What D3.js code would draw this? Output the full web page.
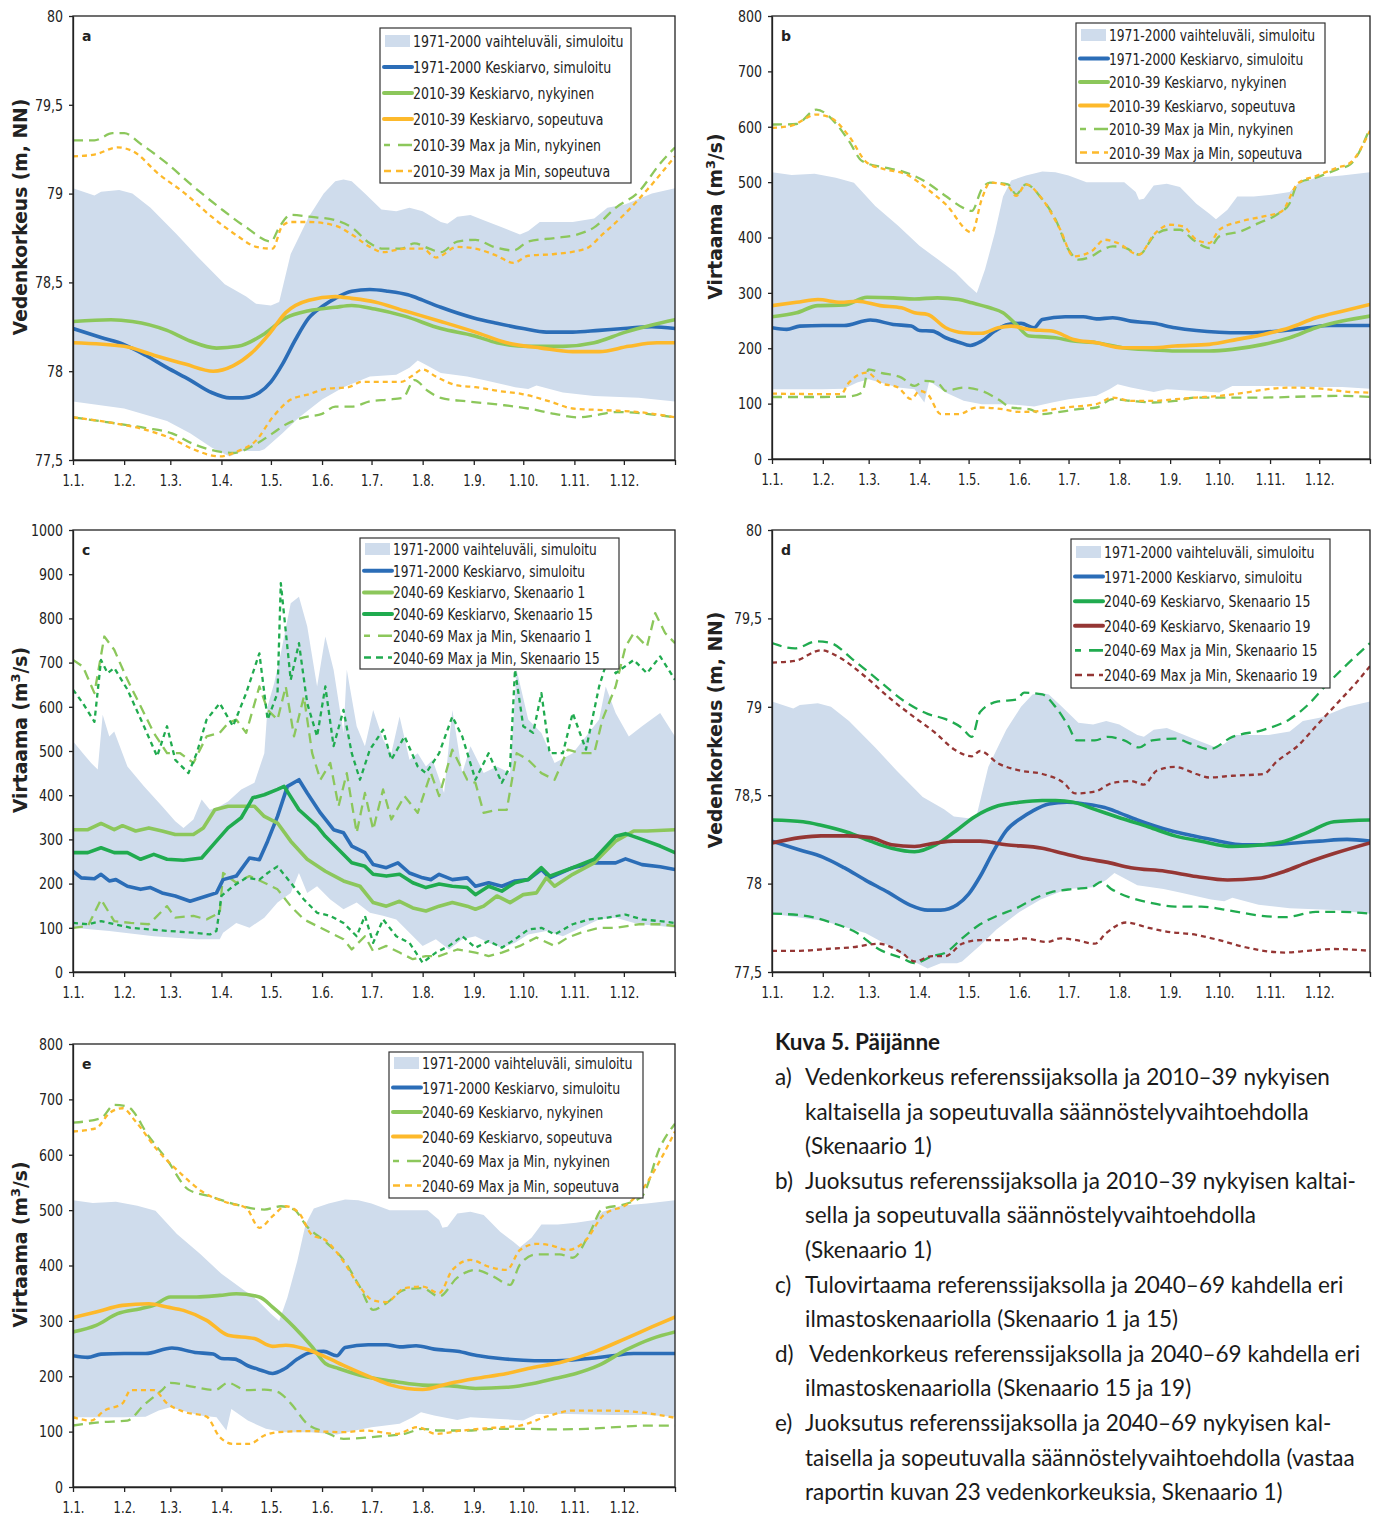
<!DOCTYPE html>
<html><head><meta charset="utf-8">
<script src="https://cdn.jsdelivr.net/npm/d3@7"></script>
<style>body{margin:0;background:#fff}</style>
</head><body>
<svg id="chart" width="1381" height="1517"></svg>
<script>
// ---------------- DATA ----------------
const monthDays = [0,31,59,90,120,151,181,212,243,273,304,334];
const monthLabels = ["1.1.","1.2.","1.3.","1.4.","1.5.","1.6.","1.7.","1.8.","1.9.","1.10.","1.11.","1.12."];
const levelTicks = [77.5,78,78.5,79,79.5,80];
const levelTickLabels = ["77,5","78","78,5","79","79,5","80"];
const flow800Ticks = [0,100,200,300,400,500,600,700,800];
const flow1000Ticks = [0,100,200,300,400,500,600,700,800,900,1000];

// Water level reference (a, d)
const levelRangeHi = [[0,79.03],[13,78.99],[17,79.01],[28,79.02],[36,79.0],[47,78.92],[63,78.77],[76,78.64],[92,78.49],[105,78.42],[111,78.38],[120,78.37],[125,78.39],[132,78.66],[143,78.87],[152,79.0],[159,79.07],[164,79.08],[169,79.07],[177,79.0],[187,78.91],[196,78.9],[204,78.92],[212,78.9],[223,78.84],[227,78.83],[233,78.87],[241,78.88],[249,78.85],[260,78.81],[271,78.77],[276,78.79],[283,78.84],[292,78.84],[303,78.84],[316,78.86],[324,78.92],[335,78.94],[351,79.0],[365,79.03]];
const levelRangeLo = [[0,77.83],[31,77.79],[57,77.72],[71,77.65],[84,77.57],[95,77.52],[103,77.55],[113,77.55],[116,77.56],[127,77.65],[137,77.74],[151,77.84],[164,77.91],[180,77.97],[196,77.98],[204,78.02],[209,78.06],[215,78.03],[223,77.99],[239,77.97],[249,77.95],[268,77.91],[276,77.9],[281,77.92],[297,77.88],[316,77.86],[343,77.85],[365,77.83]];
const levelRefMean = [[0,78.24],[17,78.19],[31,78.15],[44,78.09],[57,78.02],[71,77.95],[84,77.88],[95,77.85],[103,77.85],[113,77.88],[120,77.94],[127,78.04],[135,78.18],[143,78.3],[152,78.37],[159,78.41],[169,78.45],[180,78.46],[191,78.45],[203,78.43],[212,78.4],[223,78.36],[243,78.3],[257,78.27],[273,78.24],[287,78.22],[303,78.22],[319,78.23],[334,78.24],[351,78.25],[365,78.24]];

// Panel a
const aMeanNyk = [[0,78.28],[23,78.29],[36,78.28],[57,78.23],[71,78.17],[87,78.13],[100,78.14],[116,78.21],[129,78.3],[143,78.34],[159,78.36],[169,78.37],[183,78.35],[201,78.31],[223,78.24],[243,78.2],[257,78.16],[276,78.14],[297,78.14],[316,78.16],[335,78.22],[351,78.26],[365,78.29]];
const aMeanSop = [[0,78.16],[31,78.14],[49,78.09],[68,78.04],[85,78.0],[97,78.03],[108,78.1],[119,78.21],[129,78.33],[143,78.4],[159,78.42],[169,78.41],[183,78.39],[201,78.34],[223,78.28],[244,78.22],[263,78.16],[284,78.13],[303,78.11],[319,78.11],[337,78.14],[354,78.16],[365,78.16]];
const aMaxNyk = [[0,79.3],[13,79.3],[24,79.34],[31,79.34],[41,79.28],[57,79.17],[73,79.04],[89,78.92],[105,78.81],[120,78.73],[125,78.81],[132,78.88],[143,78.87],[159,78.85],[169,78.81],[180,78.72],[188,78.69],[199,78.69],[207,78.72],[216,78.69],[223,78.67],[233,78.73],[244,78.74],[255,78.7],[267,78.68],[276,78.73],[292,78.75],[306,78.77],[316,78.81],[329,78.92],[343,79.01],[356,79.17],[365,79.26]];
const aMaxSop = [[0,79.21],[13,79.22],[27,79.26],[36,79.24],[52,79.11],[68,79.0],[84,78.87],[100,78.76],[111,78.7],[121,78.69],[127,78.82],[132,78.84],[143,78.84],[159,78.82],[169,78.77],[180,78.7],[188,78.67],[201,78.69],[212,78.69],[220,78.64],[233,78.7],[244,78.69],[257,78.65],[267,78.61],[276,78.65],[292,78.66],[311,78.69],[321,78.77],[335,78.89],[348,79.02],[365,79.21]];
const aMinNyk = [[0,77.74],[23,77.71],[44,77.68],[60,77.65],[73,77.59],[87,77.55],[97,77.54],[111,77.59],[121,77.65],[129,77.7],[140,77.74],[151,77.76],[159,77.8],[169,77.8],[180,77.83],[191,77.84],[200,77.85],[207,77.95],[215,77.89],[223,77.85],[239,77.83],[260,77.81],[276,77.79],[292,77.76],[306,77.74],[316,77.75],[329,77.77],[348,77.76],[365,77.74]];
const aMinSop = [[0,77.74],[23,77.71],[44,77.67],[60,77.62],[73,77.56],[89,77.52],[100,77.55],[111,77.61],[121,77.74],[132,77.84],[143,77.87],[153,77.9],[167,77.91],[175,77.94],[188,77.94],[199,77.94],[205,77.97],[212,78.01],[220,77.97],[233,77.92],[244,77.91],[257,77.89],[273,77.87],[289,77.83],[303,77.79],[324,77.78],[343,77.77],[365,77.74]];

// Flow reference (b, e)
const flowRangeHi = [[0,518],[12,513],[26,515],[39,508],[50,499],[63,457],[77,421],[90,385],[101,361],[112,337],[120,313],[125,300],[130,342],[136,408],[141,474],[146,503],[155,512],[165,519],[173,518],[181,512],[192,500],[206,500],[215,500],[222,482],[224,468],[227,470],[233,494],[241,497],[249,491],[259,461],[267,443],[271,433],[278,450],[284,474],[294,474],[305,477],[316,482],[321,497],[332,508],[348,512],[365,518]];
const flowRangeLo = [[0,126],[31,126],[44,127],[52,138],[59,144],[66,138],[77,129],[87,126],[93,102],[96,141],[106,120],[117,105],[128,99],[144,99],[160,95],[171,102],[181,108],[198,114],[206,126],[211,135],[219,129],[233,121],[241,126],[259,123],[273,120],[281,132],[300,132],[327,130],[348,130],[365,127]];
const flowRefMean = [[0,237],[9,234],[17,240],[31,241],[44,241],[60,251],[74,243],[85,240],[90,232],[98,231],[106,219],[114,211],[121,205],[128,213],[136,231],[144,243],[152,245],[160,237],[165,252],[179,257],[190,257],[198,253],[208,255],[219,249],[233,245],[246,237],[259,232],[273,229],[286,228],[300,229],[313,232],[327,237],[340,241],[365,241]];

// Panel b
const bMeanNyk = [[0,257],[15,264],[28,277],[44,278],[58,292],[74,291],[87,289],[101,291],[114,288],[122,282],[133,273],[141,264],[149,243],[157,222],[163,221],[173,219],[184,213],[198,210],[214,201],[233,197],[246,195],[267,195],[281,198],[300,207],[316,219],[332,237],[348,249],[365,258]];
const bMeanSop = [[0,277],[15,283],[28,288],[42,283],[52,285],[66,277],[79,273],[87,264],[95,261],[106,237],[117,228],[128,227],[138,237],[146,240],[157,234],[171,231],[184,216],[198,210],[214,201],[233,201],[246,204],[267,207],[284,216],[300,225],[316,237],[332,255],[348,267],[365,279]];
const bMaxNyk = [[0,604],[15,605],[27,631],[39,606],[47,574],[55,538],[69,526],[79,520],[93,502],[106,475],[117,453],[122,448],[128,487],[133,499],[144,496],[149,478],[155,496],[165,469],[173,433],[181,378],[187,360],[195,366],[200,375],[208,384],[216,381],[224,369],[233,402],[241,414],[249,414],[257,396],[267,381],[273,402],[286,411],[297,426],[308,441],[316,462],[321,498],[332,508],[345,523],[353,532],[365,598]];
const bMaxSop = [[0,598],[12,602],[27,622],[36,616],[47,583],[58,535],[69,523],[82,514],[95,487],[106,460],[122,409],[128,469],[133,499],[144,493],[149,475],[155,496],[165,469],[176,414],[184,366],[195,375],[203,396],[211,390],[224,369],[233,405],[243,423],[251,420],[259,396],[267,390],[273,414],[286,429],[300,438],[311,447],[321,498],[332,511],[345,526],[353,535],[365,593]];
const bMinNyk = [[0,112],[31,112],[47,113],[55,120],[59,162],[66,156],[79,147],[87,132],[93,141],[101,138],[106,123],[117,129],[128,123],[138,108],[146,93],[157,90],[165,81],[173,84],[187,90],[198,93],[208,108],[219,105],[233,102],[246,105],[259,111],[300,111],[327,113],[348,114],[365,112]];
const bMinSop = [[0,118],[42,117],[47,138],[58,156],[66,138],[77,129],[85,108],[90,123],[95,117],[103,81],[114,81],[125,93],[138,91],[152,85],[165,87],[179,93],[198,99],[208,111],[219,105],[233,105],[246,108],[259,111],[273,114],[289,120],[305,127],[319,129],[335,127],[353,121],[365,120]];

// Panel c (inflow)
const cRangeHi = [[0,522],[6,495],[11,473],[15,458],[18,582],[22,533],[25,544],[33,465],[43,420],[54,375],[62,341],[67,326],[73,345],[78,390],[83,367],[89,375],[94,386],[102,413],[110,428],[116,495],[118,601],[122,654],[126,721],[132,834],[137,849],[142,782],[148,646],[153,759],[158,684],[164,541],[166,684],[172,556],[177,511],[182,593],[188,526],[193,495],[198,578],[204,480],[209,495],[214,465],[218,480],[225,405],[230,593],[236,450],[241,511],[249,450],[257,465],[265,450],[269,684],[276,571],[284,541],[292,473],[303,495],[311,533],[319,571],[323,646],[329,586],[337,533],[345,556],[356,586],[365,533]];
const cRangeLo = [[0,100],[22,93],[49,81],[75,74],[89,74],[91,89],[99,111],[107,100],[116,123],[124,157],[132,179],[137,224],[142,179],[148,194],[156,164],[164,142],[172,157],[180,134],[188,127],[196,119],[204,89],[212,59],[220,74],[228,51],[236,74],[244,81],[252,66],[260,55],[268,66],[276,85],[287,93],[297,81],[308,100],[319,119],[329,123],[343,108],[356,104],[365,100]];
const cRefMean = [[0,228],[5,213],[13,211],[17,221],[22,206],[26,209],[33,194],[41,187],[47,191],[54,179],[62,172],[71,160],[81,172],[87,179],[91,209],[99,217],[107,258],[113,254],[118,296],[124,352],[130,420],[137,435],[142,405],[150,360],[158,322],[164,315],[169,285],[177,270],[182,243],[190,236],[197,247],[204,224],[212,213],[217,209],[222,221],[230,209],[239,213],[244,194],[252,202],[260,194],[268,206],[276,209],[284,232],[289,213],[303,236],[316,247],[329,247],[335,256],[345,243],[356,238],[365,232]];
const cMeanS1 = [[0,322],[9,322],[17,336],[25,322],[30,331],[38,319],[46,326],[54,319],[62,311],[73,311],[79,326],[86,367],[94,375],[105,375],[110,375],[116,352],[124,337],[132,296],[142,255],[153,228],[164,206],[174,194],[182,157],[190,149],[198,160],[206,145],[214,138],[222,149],[230,157],[239,149],[244,142],[249,149],[257,172],[265,157],[273,175],[281,179],[287,213],[292,194],[303,221],[316,247],[329,296],[340,319],[348,319],[365,322]];
const cMeanS15 = [[0,270],[9,270],[17,281],[25,270],[33,270],[41,255],[49,266],[57,255],[67,253],[78,258],[86,292],[94,326],[102,349],[109,394],[116,401],[124,413],[128,420],[137,367],[148,330],[153,307],[161,277],[169,247],[177,239],[182,221],[190,217],[198,221],[206,202],[214,191],[222,199],[230,194],[239,191],[244,175],[252,194],[260,183],[268,202],[276,209],[284,236],[289,217],[303,236],[316,255],[329,307],[335,313],[345,300],[356,285],[365,270]];
const cMaxS1 = [[0,706],[6,691],[13,631],[19,759],[25,729],[33,661],[41,601],[49,541],[57,495],[65,495],[73,473],[81,533],[89,541],[94,563],[99,571],[105,541],[113,646],[118,593],[124,571],[129,646],[134,533],[140,623],[145,495],[150,435],[156,473],[161,375],[166,450],[172,315],[177,405],[182,322],[188,413],[193,345],[201,398],[209,360],[217,450],[222,398],[230,503],[239,435],[244,428],[249,360],[257,367],[263,367],[269,495],[276,480],[284,450],[292,435],[300,503],[308,495],[316,495],[321,571],[329,646],[335,736],[340,767],[348,736],[353,812],[359,767],[365,744]];
const cMinS1 = [[0,100],[9,104],[17,164],[25,115],[35,111],[46,108],[57,149],[62,123],[73,127],[81,119],[89,134],[91,224],[99,202],[107,217],[116,202],[124,187],[132,149],[140,119],[148,104],[156,89],[164,74],[169,51],[177,81],[182,47],[190,59],[198,44],[206,29],[214,36],[222,36],[233,51],[244,44],[252,36],[260,44],[271,59],[281,78],[292,59],[300,78],[308,89],[319,100],[329,100],[343,108],[356,108],[365,104]];
const cMaxS15 = [[0,639],[6,608],[13,566],[17,706],[21,676],[25,688],[33,639],[43,556],[51,488],[57,556],[62,480],[70,450],[75,495],[81,571],[89,608],[97,556],[105,631],[113,721],[118,571],[124,631],[126,880],[132,661],[137,744],[142,608],[148,533],[153,646],[158,511],[164,593],[169,495],[174,435],[180,503],[188,548],[193,480],[201,533],[209,465],[214,450],[222,495],[230,578],[236,533],[244,435],[252,495],[260,428],[265,465],[268,684],[273,556],[279,541],[284,631],[289,495],[297,495],[303,586],[311,503],[319,646],[324,706],[329,676],[340,706],[348,676],[356,714],[365,661]];
const cMinS15 = [[0,111],[9,108],[17,115],[35,100],[57,93],[73,89],[83,85],[87,93],[90,172],[97,194],[105,213],[113,209],[118,224],[124,239],[132,202],[140,164],[148,134],[156,127],[164,111],[172,81],[177,127],[182,66],[188,119],[196,81],[204,66],[212,21],[220,44],[228,59],[236,81],[244,55],[252,70],[260,55],[268,74],[276,96],[284,100],[292,85],[303,108],[313,119],[324,123],[335,130],[345,119],[356,115],[365,111]];

// Panel d
const dMeanS15 = [[0,78.36],[19,78.35],[30,78.33],[46,78.29],[60,78.24],[73,78.2],[87,78.18],[100,78.22],[111,78.29],[124,78.38],[138,78.44],[151,78.46],[165,78.47],[173,78.47],[184,78.46],[197,78.42],[213,78.37],[230,78.32],[246,78.27],[262,78.24],[281,78.21],[300,78.22],[313,78.24],[327,78.29],[343,78.35],[365,78.36]];
const dMeanS19 = [[0,78.23],[17,78.26],[30,78.27],[46,78.27],[60,78.26],[73,78.22],[87,78.21],[100,78.23],[111,78.24],[127,78.24],[143,78.22],[165,78.2],[178,78.17],[192,78.14],[205,78.12],[219,78.09],[240,78.07],[259,78.04],[278,78.02],[297,78.03],[313,78.07],[327,78.12],[343,78.17],[365,78.23]];
const dMaxS15 = [[0,79.36],[14,79.33],[27,79.37],[36,79.36],[49,79.27],[65,79.15],[81,79.03],[95,78.96],[106,78.93],[116,78.88],[122,78.83],[127,78.97],[138,79.03],[149,79.04],[154,79.08],[165,79.07],[173,79.0],[181,78.89],[186,78.81],[197,78.81],[205,78.83],[215,78.81],[224,78.77],[232,78.81],[246,78.82],[256,78.79],[267,78.76],[281,78.83],[300,78.87],[316,78.93],[327,79.01],[337,79.11],[351,79.24],[365,79.36]];
const dMaxS19 = [[0,79.25],[14,79.26],[30,79.32],[41,79.28],[57,79.17],[73,79.04],[87,78.94],[100,78.85],[111,78.76],[122,78.72],[127,78.75],[138,78.68],[151,78.64],[165,78.62],[178,78.57],[185,78.51],[197,78.52],[208,78.57],[219,78.58],[227,78.56],[235,78.64],[246,78.66],[259,78.62],[267,78.6],[281,78.61],[300,78.62],[308,78.69],[321,78.78],[332,78.89],[345,79.02],[356,79.13],[365,79.23]];
const dMinS15 = [[0,77.83],[19,77.82],[36,77.78],[52,77.72],[65,77.63],[79,77.58],[87,77.55],[98,77.59],[106,77.61],[116,77.69],[127,77.77],[138,77.82],[149,77.86],[159,77.91],[170,77.95],[184,77.97],[195,77.98],[201,78.01],[207,77.97],[219,77.92],[232,77.89],[246,77.87],[262,77.87],[278,77.85],[297,77.82],[313,77.81],[332,77.84],[348,77.84],[365,77.83]];
const dMinS19 = [[0,77.62],[17,77.62],[33,77.63],[49,77.64],[65,77.66],[79,77.61],[87,77.56],[98,77.59],[106,77.59],[116,77.66],[127,77.68],[143,77.68],[154,77.69],[168,77.67],[176,77.69],[186,77.68],[197,77.66],[204,77.72],[216,77.78],[230,77.75],[240,77.73],[259,77.71],[273,77.68],[289,77.64],[300,77.62],[313,77.61],[327,77.62],[343,77.63],[365,77.62]];

// Panel e
const eMeanNyk = [[0,280],[14,292],[27,313],[41,322],[49,328],[59,343],[75,343],[89,346],[99,349],[113,343],[121,325],[134,289],[145,253],[153,223],[161,214],[174,202],[185,195],[196,190],[212,184],[228,183],[244,178],[263,180],[279,187],[292,196],[305,205],[319,220],[335,247],[351,268],[365,280]];
const eMeanSop = [[0,306],[14,316],[30,328],[46,331],[57,325],[67,319],[81,301],[94,274],[110,268],[121,254],[129,256],[140,250],[153,235],[166,217],[180,199],[193,184],[212,176],[228,187],[244,196],[263,205],[276,214],[297,226],[316,244],[335,268],[351,289],[365,307]];
const eMaxNyk = [[0,658],[17,666],[25,690],[33,687],[46,633],[57,591],[70,537],[83,525],[99,510],[116,501],[126,507],[134,501],[142,470],[153,443],[164,410],[174,361],[182,320],[190,332],[201,356],[212,359],[222,344],[233,378],[244,392],[255,380],[265,365],[271,402],[281,420],[295,420],[303,414],[313,457],[321,502],[335,511],[345,525],[356,614],[365,656]];
const eMaxSop = [[0,642],[14,648],[22,675],[30,684],[38,660],[51,609],[65,567],[78,534],[94,513],[105,504],[113,468],[121,489],[129,507],[137,495],[145,455],[153,446],[164,407],[174,361],[182,337],[190,334],[201,359],[212,362],[222,350],[230,392],[241,410],[252,398],[263,392],[271,428],[281,439],[289,437],[300,428],[311,446],[321,489],[337,513],[345,537],[356,590],[365,642]];
const eMinNyk = [[0,111],[17,117],[33,120],[43,148],[54,175],[59,188],[73,181],[86,175],[94,188],[105,175],[116,176],[124,172],[132,151],[142,114],[153,99],[164,87],[177,89],[188,92],[201,96],[212,105],[222,102],[239,102],[255,105],[276,105],[292,104],[311,105],[329,108],[348,111],[365,111]];
const eMinSop = [[0,126],[11,120],[19,138],[30,151],[35,175],[49,175],[57,151],[67,136],[81,127],[89,90],[97,78],[107,78],[116,93],[124,99],[142,101],[164,99],[177,102],[196,96],[209,108],[220,96],[236,102],[255,107],[271,111],[287,127],[303,138],[319,138],[335,137],[351,132],[365,125]];

// Legend texts
const legendA = ["1971-2000 vaihteluväli, simuloitu","1971-2000 Keskiarvo, simuloitu","2010-39 Keskiarvo, nykyinen","2010-39 Keskiarvo, sopeutuva","2010-39 Max ja Min, nykyinen","2010-39 Max ja Min, sopeutuva"];
const legendC = ["1971-2000 vaihteluväli, simuloitu","1971-2000 Keskiarvo, simuloitu","2040-69 Keskiarvo, Skenaario 1","2040-69 Keskiarvo, Skenaario 15","2040-69 Max ja Min, Skenaario 1","2040-69 Max ja Min, Skenaario 15"];
const legendD = ["1971-2000 vaihteluväli, simuloitu","1971-2000 Keskiarvo, simuloitu","2040-69 Keskiarvo, Skenaario 15","2040-69 Keskiarvo, Skenaario 19","2040-69 Max ja Min, Skenaario 15","2040-69 Max ja Min, Skenaario 19"];
const legendE = ["1971-2000 vaihteluväli, simuloitu","1971-2000 Keskiarvo, simuloitu","2040-69 Keskiarvo, nykyinen","2040-69 Keskiarvo, sopeutuva","2040-69 Max ja Min, nykyinen","2040-69 Max ja Min, sopeutuva"];

const captionTitle = "Kuva 5. Päijänne";
const captionItems = [
  ["a)", ["Vedenkorkeus referenssijaksolla ja 2010–39 nykyisen","kaltaisella ja sopeutuvalla säännöstelyvaihtoehdolla","(Skenaario 1)"]],
  ["b)", ["Juoksutus referenssijaksolla ja 2010–39 nykyisen kaltai-","sella ja sopeutuvalla säännöstelyvaihtoehdolla","(Skenaario 1)"]],
  ["c)", ["Tulovirtaama referenssijaksolla ja 2040–69 kahdella eri","ilmastoskenaariolla (Skenaario 1 ja 15)"]],
  ["d)", ["Vedenkorkeus referenssijaksolla ja 2040–69 kahdella eri","ilmastoskenaariolla (Skenaario 15 ja 19)"]],
  ["e)", ["Juoksutus referenssijaksolla ja 2040–69 nykyisen kal-","taisella ja sopeutuvalla säännöstelyvaihtoehdolla (vastaa","raportin kuvan 23 vedenkorkeuksia, Skenaario 1)"]]
];

// ---------------- STYLE ----------------
const C = {band:"#cfdcec", blue:"#2b6db7", lgreen:"#8cc75b", orange:"#fdb92b", dgreen:"#20ab4f", red:"#953634"};
const NARROW = "'DejaVu Sans Condensed','Liberation Sans Narrow',sans-serif";
const TITLEF = "'DejaVu Sans',Verdana,sans-serif";
const MEAN_W = 3.6, DASH_W = 2.3;
const LONG = "10,6", SHORT = "5,4";

const svg = d3.select("#chart");
svg.append("rect").attr("width",1381).attr("height",1517).attr("fill","#fff");

function st(color, dash, w){ return {color, dash, w}; }
function squeeze(sel, f){
  sel.each(function(){
    const w = this.getComputedTextLength();
    d3.select(this).attr("textLength", w*f).attr("lengthAdjust","spacingAndGlyphs");
  });
}

function drawPanel(p){
  const g = svg.append("g");
  const x = d3.scaleLinear().domain([0,365]).range([p.x0,p.x1]);
  const y = d3.scaleLinear().domain(p.yDomain).range([p.y1,p.y0]);
  const clipId = "clip"+p.id;
  svg.append("clipPath").attr("id",clipId).append("rect")
    .attr("x",p.x0).attr("y",p.y0).attr("width",p.x1-p.x0).attr("height",p.y1-p.y0);
  const plot = g.append("g").attr("clip-path",`url(#${clipId})`);

  const line = d3.line().x(d=>x(d[0])).y(d=>y(d[1]));
  const poly = p.band[0].concat(p.band[1].slice().reverse());
  plot.append("path").attr("d", line(poly)+"Z").attr("fill",C.band).attr("stroke","none");

  const lineGen = d3.line().x(d=>x(d[0])).y(d=>y(d[1])).curve(p.curve);
  p.series.forEach(s=>{
    plot.append("path").attr("d",lineGen(s.data)).attr("fill","none")
      .attr("stroke",s.style.color).attr("stroke-width",s.style.w)
      .attr("stroke-dasharray",s.style.dash||null)
      .attr("stroke-linejoin","round").attr("stroke-linecap",s.style.dash?"butt":"round");
  });

  g.append("rect").attr("x",p.x0).attr("y",p.y0).attr("width",p.x1-p.x0).attr("height",p.y1-p.y0)
    .attr("fill","none").attr("stroke","#222").attr("stroke-width",1.3);

  const ya = d3.axisLeft(y).tickValues(p.yTicks).tickSize(4).tickSizeOuter(0).tickPadding(6)
    .tickFormat((d,i)=>p.yLabels[i]);
  const yg = g.append("g").attr("transform",`translate(${p.x0},0)`).call(ya);
  const xa = d3.axisBottom(x).tickValues(monthDays.concat([365])).tickSize(5).tickSizeOuter(0).tickPadding(9)
    .tickFormat((d,i)=>monthLabels[i]||"");
  const xg = g.append("g").attr("transform",`translate(0,${p.y1})`).call(xa);
  [yg,xg].forEach(a=>{
    a.select(".domain").attr("stroke","#222").attr("stroke-width",1.3);
    a.selectAll(".tick line").attr("stroke","#222").attr("stroke-width",1.3);
    a.selectAll(".tick text").attr("fill","#222").style("font-family",NARROW).style("font-size","16.5px");
  });
  squeeze(yg.selectAll(".tick text"), 0.85);
  squeeze(xg.selectAll(".tick text"), 0.78);

  g.append("text").attr("x",p.x0+9).attr("y",p.y0+25).text(p.id)
    .style("font-family",TITLEF).style("font-weight","bold").style("font-size","14px").attr("fill","#222");

  const t = g.append("text").attr("transform",`translate(${p.titleX},${(p.y0+p.y1)/2 - 21}) rotate(-90)`)
    .attr("text-anchor","middle").style("font-family",TITLEF).style("font-weight","bold")
    .style("font-size","18.7px").attr("fill","#222");
  if(p.flow){
    t.append("tspan").text("Virtaama (m");
    t.append("tspan").text("3").attr("dy",-7).style("font-size","13px");
    t.append("tspan").text("/s)").attr("dy",7);
  } else t.text("Vedenkorkeus (m, NN)");

  const L = p.legend;
  const lg = g.append("g");
  lg.append("rect").attr("x",L.x).attr("y",L.y).attr("width",L.w).attr("height",L.h)
    .attr("fill","#fff").attr("stroke","#333").attr("stroke-width",1.2);
  L.items.forEach((it,i)=>{
    const cy = L.y + L.first + i*L.step;
    if(it.band){
      lg.append("rect").attr("x",L.x+5).attr("y",cy-6).attr("width",25).attr("height",12).attr("fill",C.band);
    } else {
      lg.append("line").attr("x1",L.x+4).attr("x2",L.x+32).attr("y1",cy).attr("y2",cy)
        .attr("stroke",it.style.color).attr("stroke-width",it.style.dash?DASH_W+0.3:MEAN_W+0.4)
        .attr("stroke-dasharray",it.style.dash?(it.style.dash===LONG?"6,8,14":"7,5"):null)
        .attr("stroke-linecap",it.style.dash?"butt":"round");
    }
    const tx = lg.append("text").attr("x",L.x+33).attr("y",cy+6).text(it.label)
      .style("font-family",NARROW).style("font-size",L.fs+"px").attr("fill","#222");
    squeeze(tx, L.sq);
  });
}

const mono = d3.curveMonotoneX, lin = d3.curveLinear;
function legendItems(labels, styles){
  return labels.map((l,i)=> i===0 ? {band:true,label:l} : {label:l, style:styles[i-1]});
}

const sBlue = st(C.blue,null,MEAN_W);
{
  const s = [sBlue, st(C.lgreen,null,MEAN_W), st(C.orange,null,MEAN_W), st(C.lgreen,LONG,DASH_W), st(C.orange,SHORT,DASH_W)];
  drawPanel({id:"a", x0:73,x1:675,y0:16,y1:460, yDomain:[77.5,80], yTicks:levelTicks, yLabels:levelTickLabels,
    titleX:27, curve:mono, band:[levelRangeHi,levelRangeLo],
    series:[{data:aMaxNyk,style:s[3]},{data:aMinNyk,style:s[3]},{data:aMaxSop,style:s[4]},{data:aMinSop,style:s[4]},
      {data:levelRefMean,style:s[0]},{data:aMeanNyk,style:s[1]},{data:aMeanSop,style:s[2]}],
    legend:{x:380,y:28,w:251,h:155,first:13,step:26,fs:16,sq:0.87,items:legendItems(legendA,s)}});
  drawPanel({id:"b", flow:true, x0:772,x1:1370,y0:16,y1:459, yDomain:[0,800], yTicks:flow800Ticks, yLabels:flow800Ticks.map(String),
    titleX:722, curve:mono, band:[flowRangeHi,flowRangeLo],
    series:[{data:bMaxNyk,style:s[3]},{data:bMinNyk,style:s[3]},{data:bMaxSop,style:s[4]},{data:bMinSop,style:s[4]},
      {data:flowRefMean,style:s[0]},{data:bMeanNyk,style:s[1]},{data:bMeanSop,style:s[2]}],
    legend:{x:1076,y:23,w:249,h:140,first:12,step:23.5,fs:15.5,sq:0.88,items:legendItems(legendA,s)}});
  drawPanel({id:"e", flow:true, x0:73,x1:675,y0:1044,y1:1487, yDomain:[0,800], yTicks:flow800Ticks, yLabels:flow800Ticks.map(String),
    titleX:27, curve:mono, band:[flowRangeHi,flowRangeLo],
    series:[{data:eMaxNyk,style:s[3]},{data:eMinNyk,style:s[3]},{data:eMaxSop,style:s[4]},{data:eMinSop,style:s[4]},
      {data:flowRefMean,style:s[0]},{data:eMeanNyk,style:s[1]},{data:eMeanSop,style:s[2]}],
    legend:{x:389,y:1052,w:254,h:146,first:11,step:24.5,fs:16,sq:0.87,items:legendItems(legendE,s)}});
}
{
  const s = [sBlue, st(C.lgreen,null,MEAN_W), st(C.dgreen,null,MEAN_W), st(C.lgreen,LONG,DASH_W), st(C.dgreen,SHORT,DASH_W)];
  drawPanel({id:"c", flow:true, x0:73,x1:675,y0:530,y1:972, yDomain:[0,1000], yTicks:flow1000Ticks, yLabels:flow1000Ticks.map(String),
    titleX:27, curve:lin, band:[cRangeHi,cRangeLo],
    series:[{data:cMaxS1,style:s[3]},{data:cMinS1,style:s[3]},{data:cMaxS15,style:s[4]},{data:cMinS15,style:s[4]},
      {data:cRefMean,style:s[0]},{data:cMeanS1,style:s[1]},{data:cMeanS15,style:s[2]}],
    legend:{x:360,y:538,w:259,h:131,first:11,step:21.7,fs:15.5,sq:0.87,items:legendItems(legendC,s)}});
}
{
  const s = [sBlue, st(C.dgreen,null,MEAN_W), st(C.red,null,MEAN_W), st(C.dgreen,LONG,DASH_W), st(C.red,SHORT,DASH_W)];
  drawPanel({id:"d", x0:772,x1:1370,y0:530,y1:972, yDomain:[77.5,80], yTicks:levelTicks, yLabels:levelTickLabels,
    titleX:722, curve:mono, band:[levelRangeHi,levelRangeLo],
    series:[{data:dMaxS15,style:s[3]},{data:dMinS15,style:s[3]},{data:dMaxS19,style:s[4]},{data:dMinS19,style:s[4]},
      {data:levelRefMean,style:s[0]},{data:dMeanS15,style:s[1]},{data:dMeanS19,style:s[2]}],
    legend:{x:1071,y:539,w:259,h:149,first:13,step:24.6,fs:16,sq:0.87,items:legendItems(legendD,s)}});
}

// Caption
const CAPF = "Lato,'Open Sans',sans-serif";
const cap = svg.append("g").style("font-family",CAPF).attr("fill","#1a1a1a");
cap.append("text").attr("x",775).attr("y",1050).text(captionTitle).style("font-weight","bold").style("font-size","22.5px");
let base = 1085;
captionItems.forEach(([lab,lines],k)=>{
  cap.append("text").attr("x",775).attr("y",base).text(lab).style("font-size","22.5px");
  lines.forEach((ln,i)=>{
    cap.append("text").attr("x",k===3&&i===0?809:805).attr("y",base+i*34.6).text(ln).style("font-size","22.5px");
  });
  base += lines.length*34.6;
});
</script>
</body></html>
